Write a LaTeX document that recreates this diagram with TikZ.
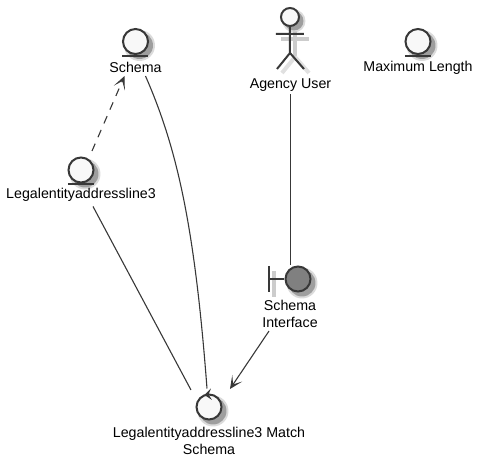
\documentclass[tikz,border=0pt]{standalone}
\usepackage{fontspec}
\setmainfont{Liberation Sans}
\usepackage{xcolor}
\usetikzlibrary{arrows.meta,calc,backgrounds}
\definecolor{ln}{RGB}{56,56,56}
\definecolor{fl}{RGB}{248,248,248}
\definecolor{bfl}{RGB}{128,128,128}
\tikzset{
  ent/.style ={circle,draw=ln,line width=0.4mm,fill=fl,minimum size=5mm,inner sep=0pt},
  bnd/.style ={circle,draw=ln,line width=0.4mm,fill=bfl,minimum size=5mm,inner sep=0pt},
  hd/.style  ={circle,draw=ln,line width=0.4mm,fill=fl,minimum size=3.6mm,inner sep=0pt},
  lbl/.style ={font=\fontsize{8.1}{9.64}\selectfont,align=center,inner sep=0.4mm,text=black},
  icon/.style={draw=ln,line width=0.4mm},
  ghost/.style={draw=black!20,line width=0.8mm},
  ar/.style  ={ln,line width=0.22mm,-{Stealth[length=2.6mm,width=2.4mm,inset=1.5mm]}},
  dep/.style ={ar,dash pattern=on 1.6mm off 1.4mm},
  link/.style={ln,line width=0.22mm},
}
\begin{document}
\begin{tikzpicture}[x=0.2mm,y=-0.2mm]
  \useasboundingbox (0,0) rectangle (482,466);
  % actor
  \node[hd] (head) at (290,17){};
  \draw[icon] (head.south)--(290,53) (276,34)--(304,34) (290,53)--(277,69) (290,53)--(304,69);
  \node[lbl] (userName) at (290.5,85.5){Agency User};
  % entities
  \node[ent] (schema) at (135.5,41.5){};
  \node[lbl] (schemaName) at (135.5,67.5){Schema};
  \node[ent] (legal) at (81,170){};
  \node[lbl] (legalName) at (81,194.5){Legalentityaddressline3};
  \node[ent] (maxlen) at (418,41.5){};
  \node[lbl] (maxlenName) at (418,67.5){Maximum Length};
  \foreach \n in {schema,legal,maxlen}
    \draw[icon] ($(\n.south)+(-13,1)$)--($(\n.south)+(13,1)$);
  % boundary
  \node[bnd] (iface) at (298,279){};
  \draw[icon] (269.5,266)--(269.5,292) (269.5,279)--(iface.west);
  \node[lbl] (ifaceName) at (290,314){Schema\\Interface};
  % control
  \node[ent] (match) at (209,407){};
  \fill[ln] (204.5,395)--(211,388.5)--(208.5,394.5)--(212,400)--cycle;
  \node[lbl] (matchName) at (209,440.5){Legalentityaddressline3 Match\\Schema};
  % connectors
  \draw[dep] ($(legal)+(11,-19)$)--($(schemaName.south)+(-11,1)$);
  \draw[link] ($(schemaName.south)+(10,1)$) .. controls (178,150) and (195,230) .. ($(match.north)+(-2,-5)$);
  \draw[link] ($(legalName.south)+(12,3)$)--($(match)+(-18,-17)$);
  \draw[link] (userName.south)--(userName.south |- iface.north);
  \draw[ar] ($(ifaceName.south)+(-21,1)$)--($(match)+(21,-18)$);
  % shadows go behind everything
  \begin{scope}[on background layer]
    \foreach \n/\r in {schema/14,legal/14,maxlen/14,match/14,iface/14,head/10}{
      \fill[black!14] ($(\n)+(4,4)$) circle (\r+1.5);
      \fill[black!38] ($(\n)+(4,4)$) circle (\r-0.5);
    }
    \draw[ghost] (295,31)--(295,57) (281,39)--(309,39) (274,271)--(274,297);
    \draw[ghost,draw=black!12] (295,57)--(282,73) (295,57)--(309,73);
  \end{scope}
\end{tikzpicture}
\end{document}
